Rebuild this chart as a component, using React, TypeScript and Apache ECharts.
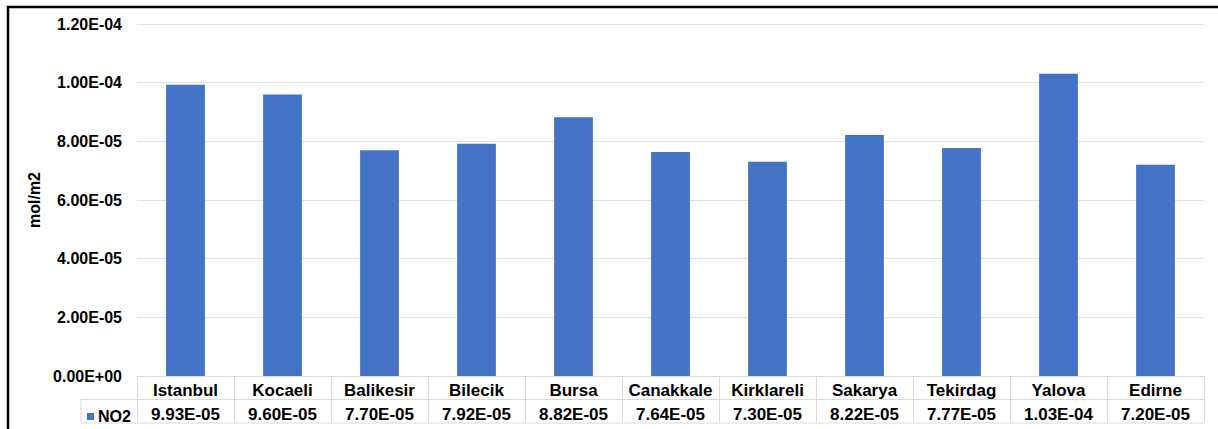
import React, { useEffect, useRef } from "react";
import * as echarts from "echarts";

const cities = [
  "Istanbul", "Kocaeli", "Balikesir", "Bilecik", "Bursa", "Canakkale",
  "Kirklareli", "Sakarya", "Tekirdag", "Yalova", "Edirne",
];
const no2Values = [
  9.93e-5, 9.6e-5, 7.7e-5, 7.92e-5, 8.82e-5, 7.64e-5,
  7.3e-5, 8.22e-5, 7.77e-5, 1.03e-4, 7.2e-5,
];
const seriesName = "NO2";
const yAxisName = "mol/m2";
const yMin = 0;
const yMax = 1.2e-4;
const yStep = 2e-5;

const FONT = "'Liberation Sans', Arial, sans-serif";
const BLUE = "#4472c4";
const TABLE_LINE = "#d9d9d9";

const W = 1218;
const H = 429;
const GRID_L = 137;
const GRID_R = 1204;
const GRID_T = 24;
const GRID_B = 376;
const ROW = 23.5;

const sci = (v: number) => {
  const s = v.toExponential(2).toUpperCase();
  // 9.93E-5 -> 9.93E-05
  return s.replace(/E([+-])(\d)$/, "E$10$2");
};

export default function App() {
  const ref = useRef<HTMLDivElement>(null);

  useEffect(() => {
    if (!ref.current) return;
    const chart = echarts.init(ref.current, null, { renderer: "svg" });
    const row2 = GRID_B + ROW;
    const row3 = GRID_B + ROW * 2;
    const boldText = {
      fontFamily: FONT,
      fontWeight: "bold",
      fontSize: 17,
      color: "#000",
    };
    chart.setOption({
      animation: false,
      grid: {
        left: GRID_L,
        right: W - GRID_R,
        top: GRID_T,
        bottom: H - GRID_B,
        containLabel: false,
      },
      legend: {
        show: true,
        left: 82,
        top: row2 + 4,
        itemWidth: 7,
        itemHeight: 7,
        itemGap: 3,
        icon: "rect",
        data: [seriesName],
        textStyle: { ...boldText, fontSize: 16, padding: [0, 0, 0, -1] },
      },
      xAxis: {
        type: "category",
        data: cities,
        boundaryGap: true,
        axisLine: { show: true, lineStyle: { color: TABLE_LINE, width: 1 } },
        axisTick: {
          show: true,
          length: ROW * 2,
          lineStyle: { color: TABLE_LINE, width: 1 },
        },
        axisLabel: {
          interval: 0,
          margin: 3,
          formatter: (name: string, idx: number) =>
            `{a|${name}}\n{b|${sci(no2Values[idx])}}`,
          rich: {
            a: { ...boldText, lineHeight: ROW },
            b: { ...boldText, lineHeight: ROW },
          },
        },
      },
      yAxis: {
        type: "value",
        min: yMin,
        max: yMax,
        interval: yStep,
        name: yAxisName,
        nameLocation: "middle",
        nameGap: 89,
        nameRotate: 90,
        nameTextStyle: { ...boldText, fontSize: 16 },
        axisLine: { show: false },
        axisTick: { show: false },
        axisLabel: {
          ...boldText,
          fontSize: 16,
          margin: 15,
          formatter: (v: number) => sci(v),
        },
        splitLine: { show: true, lineStyle: { color: "#e0e0e0", width: 1 } },
      },
      series: [
        {
          name: seriesName,
          type: "bar",
          data: no2Values,
          barWidth: "40%",
          itemStyle: { color: BLUE },
        },
      ],
      graphic: [
        // table row separators
        {
          type: "line",
          shape: { x1: 81, y1: row2, x2: GRID_R, y2: row2 },
          style: { stroke: TABLE_LINE, lineWidth: 1 },
          silent: true,
        },
        {
          type: "line",
          shape: { x1: 81, y1: row3, x2: GRID_R, y2: row3 },
          style: { stroke: TABLE_LINE, lineWidth: 1 },
          silent: true,
        },
        {
          type: "line",
          shape: { x1: 81, y1: row2, x2: 81, y2: row3 },
          style: { stroke: TABLE_LINE, lineWidth: 1 },
          silent: true,
        },
        // outer frame
        {
          type: "rect",
          shape: { x: 8, y: 7, width: W + 20, height: H + 20 },
          style: { fill: "none", stroke: "#000", lineWidth: 2.5 },
          silent: true,
        },
      ],
    });
    return () => chart.dispose();
  }, []);

  return (
    <div
      ref={ref}
      style={{
        position: "fixed",
        left: 0,
        top: 0,
        width: W,
        height: H,
        background: "#fff",
      }}
    />
  );
}
